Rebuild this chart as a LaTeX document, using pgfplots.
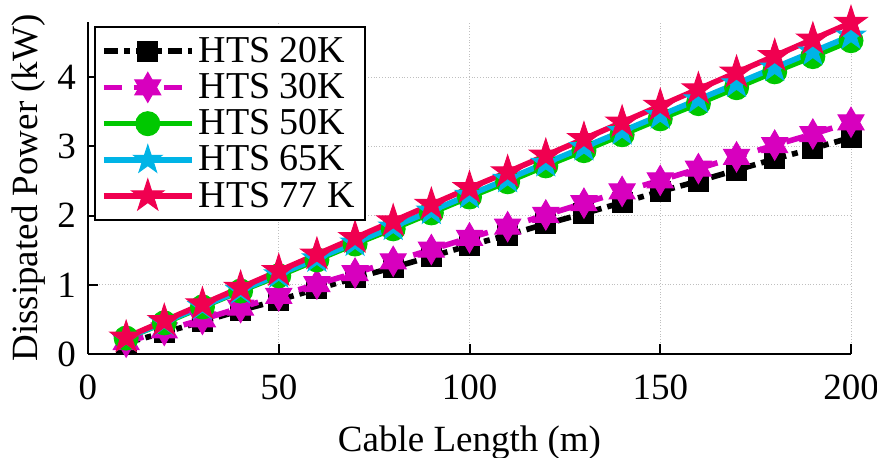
\documentclass[border=0pt]{standalone}
\usepackage{pgfplots}
\pgfplotsset{compat=1.18}
\usepackage{fontspec}
\setmainfont{Liberation Serif}

\definecolor{cmag}{RGB}{215,0,190}
\definecolor{cgreen}{RGB}{0,200,0}
\definecolor{ccyan}{RGB}{0,180,230}
\definecolor{cred}{RGB}{240,0,80}

\pgfdeclareplotmark{pent}{%
  \pgfpathmoveto{\pgfpointpolar{90}{\pgfplotmarksize}}%
  \pgfpathlineto{\pgfpointpolar{126}{0.382*\pgfplotmarksize}}%
  \pgfpathlineto{\pgfpointpolar{162}{\pgfplotmarksize}}%
  \pgfpathlineto{\pgfpointpolar{198}{0.382*\pgfplotmarksize}}%
  \pgfpathlineto{\pgfpointpolar{234}{\pgfplotmarksize}}%
  \pgfpathlineto{\pgfpointpolar{270}{0.382*\pgfplotmarksize}}%
  \pgfpathlineto{\pgfpointpolar{306}{\pgfplotmarksize}}%
  \pgfpathlineto{\pgfpointpolar{342}{0.382*\pgfplotmarksize}}%
  \pgfpathlineto{\pgfpointpolar{18}{\pgfplotmarksize}}%
  \pgfpathlineto{\pgfpointpolar{54}{0.382*\pgfplotmarksize}}%
  \pgfpathclose
  \pgfusepathqfillstroke
}
\pgfdeclareplotmark{hexa}{%
  \pgfpathmoveto{\pgfpointpolar{90}{\pgfplotmarksize}}%
  \pgfpathlineto{\pgfpointpolar{120}{0.577*\pgfplotmarksize}}%
  \pgfpathlineto{\pgfpointpolar{150}{\pgfplotmarksize}}%
  \pgfpathlineto{\pgfpointpolar{180}{0.577*\pgfplotmarksize}}%
  \pgfpathlineto{\pgfpointpolar{210}{\pgfplotmarksize}}%
  \pgfpathlineto{\pgfpointpolar{240}{0.577*\pgfplotmarksize}}%
  \pgfpathlineto{\pgfpointpolar{270}{\pgfplotmarksize}}%
  \pgfpathlineto{\pgfpointpolar{300}{0.577*\pgfplotmarksize}}%
  \pgfpathlineto{\pgfpointpolar{330}{\pgfplotmarksize}}%
  \pgfpathlineto{\pgfpointpolar{0}{0.577*\pgfplotmarksize}}%
  \pgfpathlineto{\pgfpointpolar{30}{\pgfplotmarksize}}%
  \pgfpathlineto{\pgfpointpolar{60}{0.577*\pgfplotmarksize}}%
  \pgfpathclose
  \pgfusepathqfillstroke
}

\begin{document}
\begin{tikzpicture}
\begin{axis}[
  scale only axis, width=381.5pt, height=166pt,
  xmin=0, xmax=200, ymin=0, ymax=4.8,
  axis lines=left, axis line style={-, line width=1pt},
  xtick={0,50,...,200}, ytick={0,1,2,3,4},
  tick align=inside, major tick length=5pt,
  tick style={black, line width=1pt},
  grid=major, grid style={densely dotted, gray!50, line width=0.5pt},
  font=\fontsize{18.5}{22}\selectfont,
  ticklabel style={font=\fontsize{18.5}{22}\selectfont},
  /pgf/number format/assume math mode=true,
  xticklabel style={yshift=-7pt},
  yticklabel style={xshift=-2.5pt},
  xlabel={Cable Length (m)}, ylabel={Dissipated Power (kW)},
  xlabel style={yshift=-6pt},
  ylabel style={yshift=-1pt},
  legend cell align=left,
  legend style={at={(axis description cs:0,1)}, anchor=north west,
    xshift=3pt, yshift=-2pt, draw=black, line width=1pt,
    font=\fontsize{19}{19}\selectfont, row sep=0pt, inner sep=3pt},
  legend image code/.code={%
    \draw[mark repeat=2, mark phase=2] plot coordinates {(0pt,0pt) (22pt,0pt) (44pt,0pt)};},
  every axis plot/.append style={line width=2.8pt},
]
\addplot[color=black, dash pattern=on 7pt off 3pt on 3pt off 3pt, mark=square*, mark size=5pt, mark options={solid, line width=0.5pt}]
coordinates {(10,0.16)(20,0.31)(30,0.47)(40,0.63)(50,0.78)(60,0.94)(70,1.10)(80,1.25)(90,1.41)(100,1.57)(110,1.72)(120,1.88)(130,2.03)(140,2.19)(150,2.35)(160,2.50)(170,2.66)(180,2.82)(190,2.97)(200,3.13)};
\addlegendentry{HTS 20K}
\addplot[color=cmag, dash pattern=on 9pt off 6pt, mark=hexa, mark size=7.5pt, mark options={solid, line width=0.5pt}]
coordinates {(10,0.17)(20,0.34)(30,0.50)(40,0.67)(50,0.84)(60,1.01)(70,1.17)(80,1.34)(90,1.51)(100,1.68)(110,1.84)(120,2.01)(130,2.18)(140,2.35)(150,2.51)(160,2.68)(170,2.85)(180,3.02)(190,3.18)(200,3.35)};
\addlegendentry{HTS 30K}
\addplot[color=cgreen, solid, mark=*, mark size=6pt, mark options={line width=0.5pt}]
coordinates {(10,0.23)(20,0.45)(30,0.68)(40,0.91)(50,1.13)(60,1.36)(70,1.59)(80,1.81)(90,2.04)(100,2.27)(110,2.49)(120,2.72)(130,2.94)(140,3.17)(150,3.40)(160,3.62)(170,3.85)(180,4.08)(190,4.30)(200,4.53)};
\addlegendentry{HTS 50K}
\addplot[color=ccyan, solid, mark=pent, mark size=7.5pt, mark options={line width=0.5pt}]
coordinates {(10,0.23)(20,0.46)(30,0.69)(40,0.92)(50,1.15)(60,1.38)(70,1.61)(80,1.84)(90,2.07)(100,2.30)(110,2.53)(120,2.76)(130,2.99)(140,3.22)(150,3.45)(160,3.68)(170,3.91)(180,4.14)(190,4.37)(200,4.60)};
\addlegendentry{HTS 65K}
\addplot[color=cred, solid, mark=pent, mark size=8.5pt, mark options={line width=0.5pt}]
coordinates {(10,0.24)(20,0.48)(30,0.72)(40,0.96)(50,1.20)(60,1.44)(70,1.68)(80,1.92)(90,2.16)(100,2.40)(110,2.63)(120,2.87)(130,3.11)(140,3.35)(150,3.59)(160,3.83)(170,4.07)(180,4.31)(190,4.55)(200,4.79)};
\addlegendentry{HTS 77 K}
\end{axis}
\pgfresetboundingbox
\path ([xshift=-44pt,yshift=-52pt]current axis.south west) rectangle ([xshift=13pt,yshift=11pt]current axis.north east);
\end{tikzpicture}
\end{document}
